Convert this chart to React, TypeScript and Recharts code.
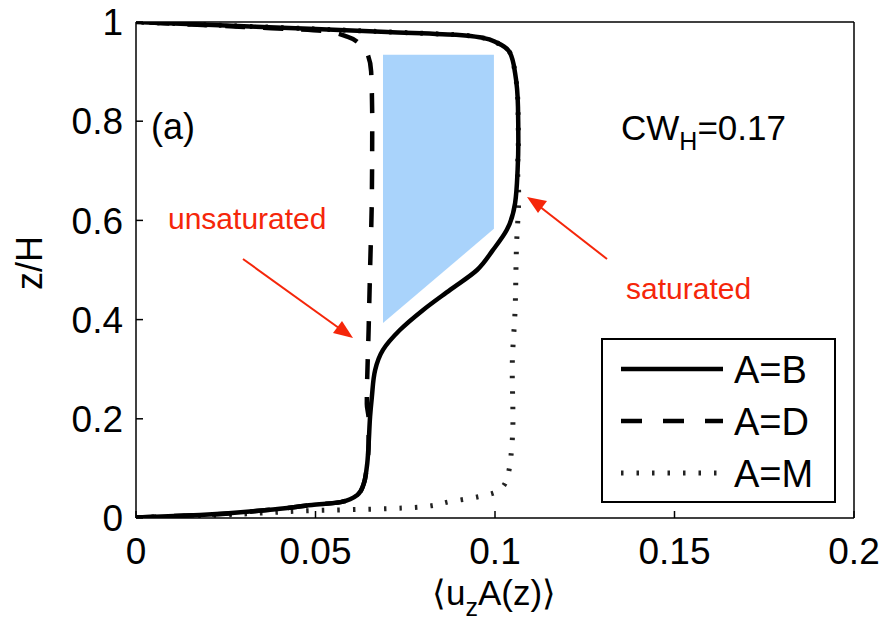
import React from 'react';
import { ComposedChart, Line, Area, XAxis, YAxis, Legend } from 'recharts';

// profile data: x = <u_z A(z)>, z = z/H
const solidB = [
  { x: 0, z: 0.001 }, { x: 0.0178, z: 0.006 }, { x: 0.0365, z: 0.016 }, { x: 0.049, z: 0.026 },
  { x: 0.057, z: 0.032 }, { x: 0.0616, z: 0.046 }, { x: 0.0633, z: 0.066 }, { x: 0.0643, z: 0.103 },
  { x: 0.0648, z: 0.15 }, { x: 0.0652, z: 0.204 }, { x: 0.0657, z: 0.244 }, { x: 0.0666, z: 0.298 },
  { x: 0.0688, z: 0.339 }, { x: 0.0735, z: 0.379 }, { x: 0.0799, z: 0.419 }, { x: 0.0875, z: 0.46 },
  { x: 0.095, z: 0.5 }, { x: 0.0994, z: 0.54 }, { x: 0.1033, z: 0.581 }, { x: 0.1056, z: 0.635 },
  { x: 0.1063, z: 0.702 }, { x: 0.1065, z: 0.76 }, { x: 0.1064, z: 0.829 }, { x: 0.1056, z: 0.897 },
  { x: 0.1042, z: 0.9375 }, { x: 0.1006, z: 0.958 }, { x: 0.0966, z: 0.968 }, { x: 0.09, z: 0.974 },
  { x: 0.07, z: 0.98 }, { x: 0.05, z: 0.986 }, { x: 0.025, z: 0.993 }, { x: 0, z: 1 },
];

const dashedD = [
  { x: 0, z: 0.001 }, { x: 0.0178, z: 0.006 }, { x: 0.0365, z: 0.016 }, { x: 0.049, z: 0.026 },
  { x: 0.057, z: 0.032 }, { x: 0.0616, z: 0.046 }, { x: 0.0633, z: 0.066 }, { x: 0.0643, z: 0.103 },
  { x: 0.0648, z: 0.15 }, { x: 0.0648, z: 0.2 }, { x: 0.0643, z: 0.23 }, { x: 0.0648, z: 0.38 },
  { x: 0.0652, z: 0.5 }, { x: 0.0657, z: 0.65 }, { x: 0.0658, z: 0.8 }, { x: 0.0655, z: 0.9 },
  { x: 0.0645, z: 0.935 }, { x: 0.0625, z: 0.955 }, { x: 0.059, z: 0.97 }, { x: 0.052, z: 0.982 },
  { x: 0.03, z: 0.99 }, { x: 0, z: 1 },
];

const dottedM = [
  { x: 0, z: 0.001 }, { x: 0.02, z: 0.005 }, { x: 0.035, z: 0.01 }, { x: 0.0493, z: 0.015 },
  { x: 0.066, z: 0.018 }, { x: 0.079, z: 0.022 }, { x: 0.0875, z: 0.033 }, { x: 0.0955, z: 0.043 },
  { x: 0.1005, z: 0.053 }, { x: 0.1032, z: 0.077 }, { x: 0.1046, z: 0.137 }, { x: 0.105, z: 0.2 },
  { x: 0.1048, z: 0.3 }, { x: 0.1056, z: 0.42 }, { x: 0.106, z: 0.55 }, { x: 0.1066, z: 0.65 },
  { x: 0.1063, z: 0.702 }, { x: 0.1065, z: 0.76 }, { x: 0.1064, z: 0.829 }, { x: 0.1056, z: 0.897 },
  { x: 0.1042, z: 0.9375 }, { x: 0.1006, z: 0.958 }, { x: 0.0966, z: 0.968 }, { x: 0.09, z: 0.974 },
  { x: 0.07, z: 0.98 }, { x: 0.05, z: 0.986 }, { x: 0.025, z: 0.993 }, { x: 0, z: 1 },
];

// shaded gap between the profiles: [bottom, top] at each edge
const gapBand = [
  { x: 0.0688, r: [0.393, 0.934] },
  { x: 0.0997, r: [0.583, 0.934] },
];

const xTicks = [0, 0.05, 0.1, 0.15, 0.2];
const yTicks = [0, 0.2, 0.4, 0.6, 0.8, 1];
const legendItems = [
  { label: 'A=B', dash: undefined as string | undefined, width: 4.5, color: '#000' },
  { label: 'A=D', dash: '21 21', width: 4.5, color: '#000' },
  { label: 'A=M', dash: '2.5 13', width: 5, color: '#222' },
];

const FONT = '"Liberation Sans", Arial, Helvetica, sans-serif';
const RED = '#f5260a';

const LegendBox = () => (
  <svg width={235} height={165} style={{ display: 'block' }}>
    <rect x={1} y={1} width={233} height={163} fill="#fff" stroke="#000" strokeWidth={2} />
    {legendItems.map((it, i) => {
      const cy = 31 + i * 52;
      return (
        <g key={it.label}>
          <line x1={20} x2={122} y1={cy} y2={cy} stroke={it.color} strokeWidth={it.width}
            strokeDasharray={it.dash} />
          <text x={133} y={cy + 14} fontSize={38} fontFamily={FONT} fill="#000">{it.label}</text>
        </g>
      );
    })}
  </svg>
);

export default function App() {
  return (
    <div style={{ position: 'absolute', left: 0, top: 0, width: 885, height: 623, background: '#fff', fontFamily: FONT }}>
      <ComposedChart width={885} height={623} margin={{ top: 20, right: 21, bottom: 45, left: 46 }}>
        <XAxis xAxisId="b" type="number" dataKey="x" domain={[0, 0.2]} ticks={xTicks} allowDataOverflow
          height={60} tickSize={-7} tickMargin={27} stroke="#000" strokeWidth={1.5}
          tick={{ fill: '#000', fontSize: 37, fontFamily: FONT }} />
        <XAxis xAxisId="t" orientation="top" type="number" dataKey="x" domain={[0, 0.2]} ticks={xTicks}
          allowDataOverflow height={2} tickSize={-7} tick={false} stroke="#000" strokeWidth={1.5} />
        <YAxis yAxisId="l" type="number" dataKey="z" domain={[0, 1]} ticks={yTicks} allowDataOverflow
          width={90} tickSize={-7} tickMargin={20} stroke="#000" strokeWidth={1.5}
          tick={{ fill: '#000', fontSize: 37, fontFamily: FONT }} />
        <YAxis yAxisId="r" orientation="right" type="number" domain={[0, 1]} ticks={yTicks} allowDataOverflow
          width={10} tickSize={-7} tick={false} stroke="#000" strokeWidth={1.5} />
        <Area xAxisId="b" yAxisId="l" data={gapBand} dataKey="r" type="linear" stroke="none"
          fill="#a9d3fb" fillOpacity={1} isAnimationActive={false} legendType="none" />
        <Line xAxisId="b" yAxisId="l" data={dottedM} dataKey="z" type="monotoneY" dot={false}
          stroke="#222" strokeWidth={5} strokeDasharray="2.5 13" isAnimationActive={false} />
        <Line xAxisId="b" yAxisId="l" data={dashedD} dataKey="z" type="monotoneY" dot={false}
          stroke="#000" strokeWidth={4.5} strokeDasharray="20 18" isAnimationActive={false} />
        <Line xAxisId="b" yAxisId="l" data={solidB} dataKey="z" type="monotoneY" dot={false}
          stroke="#000" strokeWidth={4.5} strokeLinejoin="round" isAnimationActive={false} />
        <Legend layout="vertical" align="center" verticalAlign="middle"
          wrapperStyle={{ left: 601, top: 338, width: 235, height: 165 }} content={() => <LegendBox />} />
      </ComposedChart>

      <svg width={885} height={623} style={{ position: 'absolute', left: 0, top: 0, pointerEvents: 'none' }}>
        <g fontFamily={FONT}>
          <text x={151} y={139} fontSize={36} fill="#000">(a)</text>
          <text x={621} y={140} fontSize={35} fill="#000">
            CW<tspan fontSize={25} dy={10}>H</tspan><tspan dy={-10}>=0.17</tspan>
          </text>
          <text x={168} y={229} fontSize={30} fill={RED}>unsaturated</text>
          <text x={626} y={299} fontSize={30} fill={RED}>saturated</text>
          <text transform="translate(42,263) rotate(-90)" textAnchor="middle" fontSize={36} fill="#000">z/H</text>
          <text x={494} y={605} textAnchor="middle" fontSize={35} fill="#000">
            ⟨u<tspan fontSize={25} dy={11}>z</tspan><tspan dy={-11}>A(z)⟩</tspan>
          </text>
        </g>
        <line x1={243} y1={259} x2={350} y2={336} stroke={RED} strokeWidth={2} />
        <path d="M353,338 L333,333 L342,321 z" fill={RED} />
        <line x1={607} y1={259} x2={530} y2={199} stroke={RED} strokeWidth={2} />
        <path d="M527,197 L547,201 L538,213 z" fill={RED} />
      </svg>
    </div>
  );
}
